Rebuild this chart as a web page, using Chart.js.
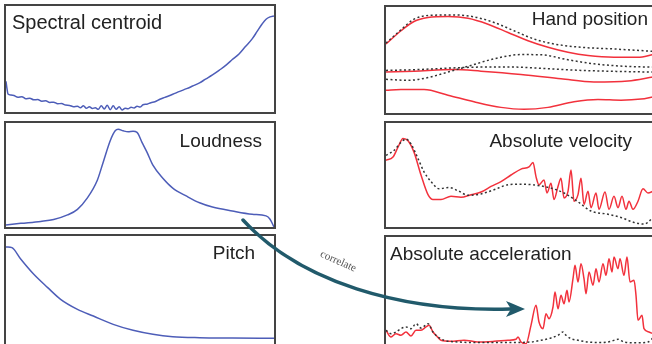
<!DOCTYPE html>
<html>
<head>
<meta charset="utf-8">
<script src="https://cdn.jsdelivr.net/npm/chart.js@4.4.1/dist/chart.umd.min.js"></script>
<style>
  html, body { margin: 0; padding: 0; background: #fff; }
  #page { position: relative; width: 652px; height: 344px; overflow: hidden; font-family: "Liberation Sans", Arial, sans-serif; }
  .box { position: absolute; box-sizing: border-box; border: 2px solid #444; background: #fff; }
  .box canvas { display: block; }
  .title { position: absolute; font-size: 19px; line-height: 19px; color: #222; white-space: nowrap; }
  svg { position: absolute; left: 0; top: 0; }
</style>
</head>
<body>
<div id="page">
  <div class="box" style="left:4px;top:4px;width:272px;height:110px"><canvas id="c1"></canvas></div>
  <div class="box" style="left:4px;top:121px;width:272px;height:108px"><canvas id="c2"></canvas></div>
  <div class="box" style="left:4px;top:234px;width:272px;height:112px"><canvas id="c3"></canvas></div>
  <div class="box" style="left:384px;top:5px;width:290px;height:110px"><canvas id="c4"></canvas></div>
  <div class="box" style="left:384px;top:121px;width:290px;height:108px"><canvas id="c5"></canvas></div>
  <div class="box" style="left:384px;top:235px;width:290px;height:112px"><canvas id="c6"></canvas></div>

  <div class="title" style="left:12px;top:12px;font-size:20px;line-height:20px">Spectral centroid</div>
  <div class="title" style="right:390px;top:131px">Loudness</div>
  <div class="title" style="right:397px;top:243px">Pitch</div>
  <div class="title" style="right:4px;top:9px">Hand position</div>
  <div class="title" style="right:20px;top:131px">Absolute velocity</div>
  <div class="title" style="left:390px;top:244px">Absolute acceleration</div>

  <svg width="652" height="344">
    <path d="M243,220 C300,282 400,312 510,309" stroke="#215a6b" stroke-width="3.5" fill="none" stroke-linecap="round"/>
    <polygon points="525,309 506,301 511,309 506,317" fill="#215a6b"/>
    <text x="0" y="0" transform="translate(337,264) rotate(24)" text-anchor="middle"
          font-family="Liberation Serif, serif" font-size="11" fill="#555">correlate</text>
  </svg>
</div>

<script>
// ===============================
// DATA (x = px from box left, y = % of box height)
// ===============================
const centroidX = [0, 1, 2, 5, 8, 12, 16, 20, 24, 28, 32, 36, 40, 44, 48, 52, 56, 60, 64, 68, 72, 75, 78, 81, 84, 87, 90, 93, 96, 99, 102, 105, 108, 111, 114, 117, 120, 123, 126, 129, 132, 135, 138, 142, 146, 150, 155, 160, 168, 175, 182, 188, 195, 201, 208, 215, 222, 228, 235, 241, 248, 253, 258, 262, 266, 270]
const centroidY = [29, 22, 17, 16, 15.5, 14, 14.5, 12.5, 13, 11.5, 11.8, 10.2, 10.5, 9, 9.3, 7.8, 8, 6.5, 6.2, 5, 5.5, 4, 6, 3.5, 5, 3.3, 4, 2.5, 6, 2.8, 6.3, 2.2, 5.8, 2.5, 5, 2, 3.5, 3, 4.5, 3.8, 5.5, 4.6, 6.8, 7.4, 8.8, 9.6, 12, 13.8, 16.7, 19.5, 22, 24.5, 27.5, 31, 35, 39.5, 44.4, 49.5, 55, 61.5, 69, 76, 83, 87.5, 89.7, 90.7]

const loudnessX = [0, 2, 15, 35, 48, 62, 72, 82, 92, 98, 105, 110, 113, 118, 123, 128, 132, 137, 142, 148, 158, 168, 182, 195, 208, 228, 248, 262, 266, 270]
const loudnessY = [2, 2.2, 3.5, 5.4, 7.2, 11.6, 17, 28, 45, 62.6, 83, 92.5, 94, 92.5, 91.5, 92, 91, 81.4, 72, 59.4, 46.9, 37.4, 29.6, 23.3, 19.2, 15.4, 12.3, 10.7, 7.5, 0]

const pitchX = [0, 2, 6, 15, 28, 42, 55, 72, 88, 108, 128, 148, 168, 195, 228, 270]
const pitchY = [89.8, 89.8, 89.2, 78.4, 64.5, 52.2, 41.4, 32.1, 25.9, 18.2, 12.7, 9, 6.8, 5.9, 5.6, 5.3]

// hand position: three tracked (red) and three reference (dotted)
const handRed1X = [0, 15, 28, 42, 62, 82, 102, 122, 142, 162, 182, 202, 228, 252, 267]
const handRed1Y = [65.1, 77.6, 86.3, 90, 91, 89.4, 83.8, 76, 68.2, 62, 57.3, 54.2, 52.6, 52.6, 55.1]
const handDot1X = [0, 15, 28, 45, 68, 88, 108, 128, 148, 168, 195, 228, 267]
const handDot1Y = [66, 78.5, 88.5, 92.2, 92.5, 90.7, 85.4, 77.6, 69.8, 65.1, 62, 60.4, 58.2]
const handRed2X = [0, 28, 68, 95, 135, 175, 208, 242, 267]
const handRed2Y = [38.6, 39.5, 41.1, 39.5, 36.4, 32.4, 29.3, 30.2, 33.9]
const handDot2X = [0, 22, 42, 62, 85, 108, 135, 155, 182, 208, 242, 267]
const handDot2Y = [31.8, 30.8, 33.4, 38.6, 44.9, 51.1, 55.1, 54.9, 50.2, 46.4, 43.9, 43.3]
const handDot3X = [0, 28, 62, 95, 128, 162, 195, 228, 267]
const handDot3Y = [40.2, 40.8, 42.3, 43.3, 43.3, 41.8, 40.2, 39.3, 38.6]
const handRed3X = [0, 15, 38, 62, 88, 115, 138, 162, 188, 212, 235, 255, 267]
const handRed3Y = [21.5, 22.1, 22.1, 16.8, 10.6, 5.3, 3.5, 5.3, 10.6, 12.8, 12.1, 13.1, 15.2]

const velRedX = [0, 7, 12, 17, 22, 28, 35, 42, 47, 55, 65, 75, 85, 95, 105, 115, 125, 135, 143, 147, 150, 153, 158, 161, 165, 168, 172, 175, 178, 182, 185, 188, 192, 195, 198, 202, 205, 210, 213, 219, 223, 228, 232, 236, 240, 243, 247, 252, 257, 262, 267]
const velRedY = [64.2, 67.3, 76.7, 85.2, 83, 72, 50, 31.1, 26.4, 26.4, 29.5, 28.6, 31.1, 33.6, 39, 43.7, 50, 55.7, 57.8, 62, 48.4, 40.6, 45.3, 32.7, 42.1, 26.4, 39, 46.9, 28, 34.3, 54.7, 24.8, 31.1, 46.9, 21.7, 34.3, 18.6, 32.7, 17, 33.6, 17, 29.5, 18.6, 29.5, 17, 24.8, 17, 24.8, 36.8, 32.7, 34.3]
const velDotX = [0, 8, 15, 20, 25, 32, 38, 45, 53, 63, 72, 82, 95, 108, 122, 135, 152, 165, 178, 192, 205, 222, 235, 248, 258, 263, 267]
const velDotY = [68.9, 73.6, 81.4, 84.6, 79.9, 65.8, 53.1, 43.7, 36.8, 38, 34.9, 30.5, 31.8, 35.8, 40.6, 41.2, 39.9, 37.4, 32.7, 24.2, 15.4, 12.3, 9.1, 4.4, 2.8, 5.4, 9.7]

const accRedX = [0, 5, 10, 15, 20, 25, 30, 35, 40, 43, 47, 50, 55, 65, 78, 92, 108, 122, 130, 132, 135, 140, 145, 150, 153, 157, 160, 163, 167, 169, 172, 175, 178, 181, 183, 187, 189, 192, 195, 198, 200, 203, 207, 210, 213, 217, 220, 223, 226, 228, 232, 234, 238, 241, 244, 248, 250, 252, 256, 258, 263, 267]
const accRedY = [13.6, 7.4, 10.5, 9, 12, 8.3, 13.6, 13.6, 16.7, 18.2, 12, 9, 4.4, 3.4, 4.4, 2.8, 3.4, 4.4, 5.3, 7.4, 2.8, 1.2, 18.2, 36.8, 21.3, 15.1, 29, 24.4, 35.2, 49.1, 33.6, 46, 38.2, 50.6, 39.8, 61.4, 73.8, 58.3, 75.3, 61.4, 47.5, 67.6, 55.3, 70.6, 58.3, 75.3, 64.5, 79.9, 67.6, 81.5, 70.6, 79.9, 64.5, 81.5, 58.3, 59.9, 46, 22.9, 27.5, 15.1, 12, 10.5]
const accDotX = [0, 5, 10, 15, 20, 25, 30, 35, 42, 47, 52, 58, 72, 95, 122, 145, 155, 165, 172, 177, 180, 185, 192, 202, 215, 225, 232, 238, 252, 262, 267]
const accDotY = [13.6, 10.5, 12, 15.1, 16.7, 15.1, 19.7, 15.7, 19.7, 12, 7.4, 4.4, 2.8, 2.2, 2.2, 2.8, 4.4, 6.5, 9, 12, 9, 5.9, 4.4, 2.8, 2.2, 3.4, 5.3, 2.8, 2, 2.8, 6.5]

const BLUE = "#4d5db8"
const RED = "#f2313c"
const DOT = "#333333"

// ===============================
// HELPERS
// ===============================
function pts(xs, ys) {
  return xs.map((x, i) => ({ x: x, y: ys[i] }))
}

function line(xs, ys, color) {
  return {
    data: pts(xs, ys),
    borderColor: color,
    borderWidth: 1.5,
    pointRadius: 0,
    fill: false,
    cubicInterpolationMode: "monotone"
  }
}

function dotted(xs, ys) {
  const ds = line(xs, ys, DOT)
  ds.borderDash = [2, 2.5]
  return ds
}

function makePanel(id, xMax, datasets) {
  const ctx = document.getElementById(id).getContext("2d")
  return new Chart(ctx, {
    type: "line",
    data: { datasets: datasets },
    options: {
      responsive: true,
      maintainAspectRatio: false,
      animation: false,
      layout: { padding: 0 },
      plugins: { legend: { display: false }, tooltip: { enabled: false } },
      scales: {
        x: { type: "linear", display: false, min: 0, max: xMax },
        y: { display: false, min: 0, max: 100 }
      }
    }
  })
}

// ===============================
// PANELS
// ===============================
makePanel("c1", 270, [line(centroidX, centroidY, BLUE)])
makePanel("c2", 270, [line(loudnessX, loudnessY, BLUE)])
makePanel("c3", 270, [line(pitchX, pitchY, BLUE)])

makePanel("c4", 286, [
  dotted(handDot1X, handDot1Y),
  dotted(handDot2X, handDot2Y),
  dotted(handDot3X, handDot3Y),
  line(handRed1X, handRed1Y, RED),
  line(handRed2X, handRed2Y, RED),
  line(handRed3X, handRed3Y, RED)
])

makePanel("c5", 286, [
  dotted(velDotX, velDotY),
  line(velRedX, velRedY, RED)
])

makePanel("c6", 286, [
  dotted(accDotX, accDotY),
  line(accRedX, accRedY, RED)
])
</script>
</body>
</html>
